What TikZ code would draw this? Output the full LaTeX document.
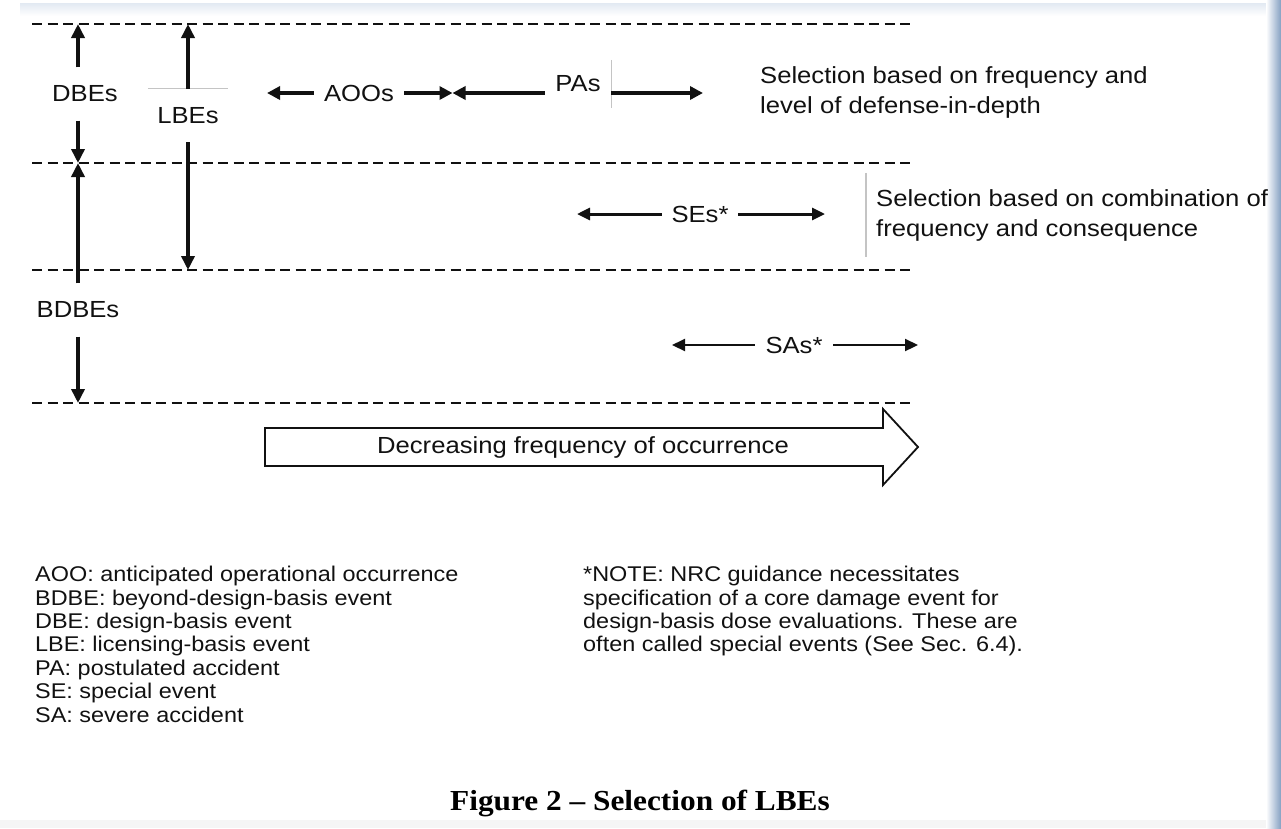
\documentclass[tikz,border=0pt]{standalone}
\usepackage{fontspec}
\setmainfont{Liberation Sans}[FakeStretch=1.1]
\newfontfamily\capfont{Liberation Serif}[FakeStretch=1.08]
\usetikzlibrary{arrows.meta}

\definecolor{ink}{HTML}{111111}
\definecolor{rule}{HTML}{C4C4C4}
\definecolor{frameblue}{RGB}{132,160,194}
\definecolor{framepale}{RGB}{226,233,242}

\begin{document}
\begin{tikzpicture}[x=1pt,y=-1pt,
  txt/.style={font=\fontsize{23.3}{26}\selectfont, text=ink, inner sep=0pt},
  vlbl/.style={txt, minimum height=53pt},
  hlbl/.style={txt, minimum height=20pt},
  para/.style={txt, align=left},
  legend/.style={para, anchor=north west, font=\fontsize{21.3}{23.4}\selectfont},
  levelline/.style={ink, line width=2.4pt, dash pattern=on 10pt off 5.5pt},
  varrow/.style={ink, line width=4pt, -{Triangle[length=14pt,width=13pt]}},
  harrow/.style={ink, line width=3.6pt, -{Triangle[length=13pt,width=13pt]}},
  marrow/.style={ink, line width=3pt, -{Triangle[length=13pt,width=12pt]}},
  larrow/.style={ink, line width=2.2pt, -{Triangle[length=13pt,width=12pt]}},
  thinrule/.style={rule, line width=1.2pt}
]
\useasboundingbox (0,0) rectangle (1281,828);

% window frame tint along the top and right edges
\shade[top color=framepale, bottom color=white] (20,3) rectangle (1281,16);
\shade[left color=white, right color=frameblue] (1266,0) rectangle (1281,828);
\fill[black!4] (0,820) rectangle (1266,828);

% frequency level boundaries
\coordinate (r1) at (0,24);
\coordinate (r2) at (0,163);
\coordinate (r3) at (0,270);
\coordinate (r4) at (0,403);
\foreach \y in {24,163,270,403}
  \draw[levelline] (32,\y) -- (914,\y);

% vertical ranges on the left
\node[vlbl] (bdbe) at (78,310) {BDBEs};
\node[vlbl] (dbe)  at (85,94)  {DBEs};
\node[vlbl, minimum width=80pt] (lbe) at (188,115.5) {LBEs};
\draw[thinrule] (lbe.north west) -- (lbe.north east);

\draw[varrow] (dbe.north -| bdbe.center) -- (bdbe.center |- r1);
\draw[varrow] (dbe.south -| bdbe.center) -- (bdbe.center |- r2);
\draw[varrow] (lbe.north) -- (lbe.center |- r1);
\draw[varrow] (lbe.south) -- (lbe.center |- r3);
\draw[varrow] (bdbe.north) -- (bdbe.center |- r2);
\draw[varrow] (bdbe.south) -- (bdbe.center |- r4);

% horizontal ranges of event categories
\node[hlbl, minimum width=90pt] (aoo) at (359,93) {AOOs};
\node[txt, minimum width=66pt, minimum height=48pt] (pa) at (578,84) {PAs};
\draw[thinrule] (pa.north east) -- (pa.south east);
\coordinate (aooL) at (267,93);
\coordinate (meet) at (452.5,93);
\coordinate (paR)  at (703,93);
\draw[harrow] (aoo.west) -- (aooL);
\draw[harrow] (aoo.east) -- (meet);
\draw[harrow] (pa.west |- aoo.center) -- (meet);
\draw[harrow] (pa.east |- aoo.center) -- (paR);

\node[para, anchor=north west, font=\fontsize{23.3}{30}\selectfont] (selA) at (760,66)
  {Selection based on frequency and\\level of defense-in-depth};

\node[hlbl, minimum width=76pt] (se) at (700,214) {SEs*};
\coordinate (seL) at (577,214);
\coordinate (seR) at (825,214);
\draw[marrow] (se.west) -- (seL);
\draw[marrow] (se.east) -- (seR);

\node[para, anchor=west, font=\fontsize{23.3}{30}\selectfont, inner xsep=10pt,
      minimum height=84pt] (selB) at (866,215)
  {Selection based on combination of\\frequency and consequence};
\draw[thinrule] (selB.north west) -- (selB.south west);

\node[hlbl, minimum width=78pt] (sa) at (794,345) {SAs*};
\coordinate (saL) at (672,345);
\coordinate (saR) at (918,345);
\draw[larrow] (sa.west) -- (saL);
\draw[larrow] (sa.east) -- (saR);

% direction of decreasing frequency
\node[txt] (freq) at (583,447) {Decreasing frequency of occurrence};
\draw[ink, line width=1.8pt, line join=miter]
  (265,428) -- (883,428) -- (883,409) -- (918,447) -- (883,485) -- (883,466)
  -- (265,466) -- cycle;

% abbreviations and note
\node[legend] (abbr) at (35,566)
  {AOO: anticipated operational occurrence\\
   BDBE: beyond-design-basis event\\
   DBE: design-basis event\\
   LBE: licensing-basis event\\
   PA: postulated accident\\
   SE: special event\\
   SA: severe accident};

\node[legend] (note) at (583,566)
  {*NOTE: NRC guidance necessitates\\
   specification of a core damage event for\\
   design-basis dose evaluations. These are\\
   often called special events (See Sec. 6.4).};

\node[font=\capfont\bfseries\fontsize{29}{32}\selectfont, text=black, inner sep=0pt]
  (caption) at (640,803) {Figure 2 – Selection of LBEs};
\end{tikzpicture}
\end{document}
